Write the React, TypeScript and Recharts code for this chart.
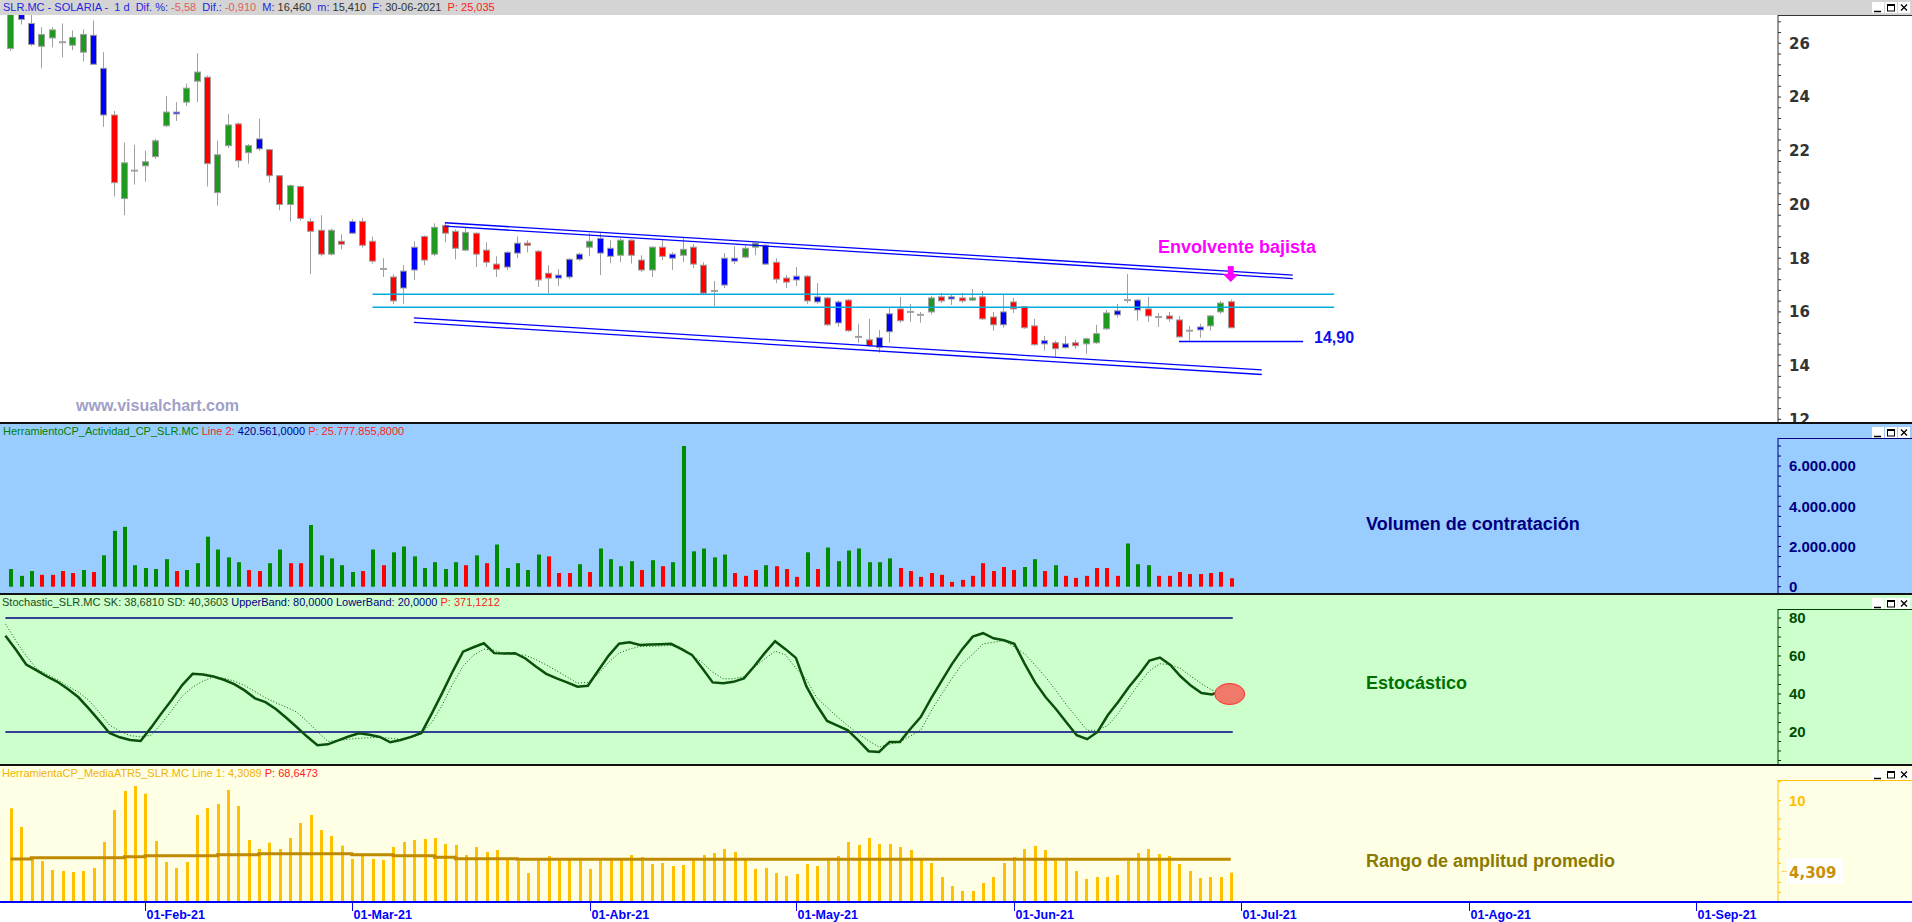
import React from "react";
import { ComposedChart, Bar, Line, XAxis, YAxis, ReferenceLine, ReferenceDot } from "recharts";

// one slot per trading day, 13-Jan-2021 .. 30-Jun-2021 hold data, the rest is empty future
const SLOTS = 171;

// candle type as drawn: g = alcista, r = bajista, b = azul, n = doji
const candleKind = (
  "gbbggnggbb" + "rgngggbggr" + "ggrgbrrgrr" + "rgrbrrnrbb" + "rgrrgrrrbb" + "rrrbbbgbbg" +
  "rrgrbgrrnb" + "bggbrrbrbr" + "brnrbbrnng" + "rbrgrrbrrr" + "brbrgggbnb" + "rnrrnbggr"
).split("");

const cOpen = [
  25.81, 27.07, 26.74, 25.89, 26.2, 26.04, 25.93, 25.67, 26.3, 25.07,
  23.33, 20.22, 21.26, 21.44, 21.78, 22.93, 23.44, 23.81, 24.59, 24.74,
  20.44, 22.19, 23.0, 21.93, 22.44, 22.04, 21.07, 20.0, 20.67, 19.37,
  19.04, 18.15, 18.63, 19.37, 19.37, 18.63, 17.6, 17.3, 17.52, 18.41,
  18.81, 18.15, 19.22, 19.0, 18.3, 18.93, 18.3, 17.78, 18.22, 18.56,
  18.56, 18.26, 17.44, 17.37, 17.96, 18.15, 18.41, 18.74, 18.37, 18.11,
  18.67, 17.93, 17.56, 18.41, 18.15, 18.11, 18.41, 17.74, 16.78, 18.0,
  18.0, 18.04, 18.41, 18.48, 17.85, 17.26, 17.33, 17.33, 16.56, 16.52,
  16.37, 16.44, 15.07, 14.96, 15.04, 15.93, 16.11, 16.0, 15.89, 16.0,
  16.56, 16.56, 16.52, 16.44, 16.56, 15.81, 16.0, 16.37, 16.19, 15.48,
  14.93, 14.85, 14.81, 14.85, 14.81, 14.85, 15.37, 16.04, 16.44, 16.44,
  16.11, 15.81, 15.85, 15.7, 15.3, 15.44, 15.48, 16.0, 16.38,
];
const cHigh = [
  27.4, 27.2, 27.1, 26.6, 26.6, 26.74, 26.48, 26.52, 26.85, 25.67,
  23.48, 22.3, 22.22, 22.0, 22.44, 24.04, 23.81, 24.5, 25.63, 24.8,
  22.37, 23.37, 23.05, 22.25, 23.19, 22.07, 21.1, 20.74, 20.7, 19.48,
  19.6, 19.1, 18.89, 19.45, 19.5, 18.8, 18.0, 17.4, 17.74, 18.63,
  18.85, 19.3, 19.33, 19.07, 19.15, 18.96, 18.59, 18.07, 18.26, 18.81,
  18.67, 18.3, 17.74, 17.59, 18.0, 18.2, 18.93, 18.93, 18.67, 18.74,
  18.7, 18.11, 18.44, 18.67, 18.22, 18.74, 18.52, 17.85, 17.15, 18.19,
  18.44, 18.48, 18.59, 18.52, 18.0, 17.37, 17.67, 17.37, 17.07, 16.56,
  16.44, 16.48, 15.56, 15.74, 15.33, 16.15, 16.56, 16.3, 16.0, 16.6,
  16.7, 16.63, 16.7, 16.85, 16.78, 16.0, 16.67, 16.52, 16.22, 15.74,
  15.11, 14.93, 15.11, 14.96, 15.04, 15.52, 16.07, 16.3, 17.41, 16.48,
  16.56, 15.96, 16.0, 15.85, 15.48, 15.56, 15.89, 16.41, 16.46,
];
const cLow = [
  25.72, 26.7, 25.9, 25.07, 25.85, 25.48, 25.74, 25.33, 25.2, 22.89,
  20.3, 19.6, 20.74, 20.85, 21.7, 22.89, 23.11, 23.67, 23.81, 20.67,
  19.96, 22.1, 21.37, 21.52, 22.0, 20.81, 19.78, 19.37, 19.4, 17.41,
  18.07, 18.1, 18.33, 18.9, 18.4, 17.8, 17.3, 16.3, 16.3, 17.19,
  17.74, 18.07, 18.59, 17.96, 18.26, 17.67, 17.67, 17.3, 17.56, 18.0,
  18.22, 16.93, 16.7, 16.96, 17.22, 17.9, 18.07, 17.37, 17.81, 17.85,
  17.8, 17.48, 17.3, 17.93, 17.56, 17.85, 17.63, 16.65, 16.22, 16.89,
  17.78, 18.0, 18.11, 17.74, 17.07, 16.89, 16.96, 16.3, 16.3, 15.48,
  15.44, 15.26, 14.85, 14.7, 14.48, 14.85, 15.6, 15.63, 15.6, 15.9,
  16.33, 16.26, 16.33, 16.4, 15.7, 15.3, 15.41, 15.96, 15.37, 14.74,
  14.56, 14.33, 14.63, 14.63, 14.44, 14.81, 15.33, 15.78, 16.33, 15.67,
  15.63, 15.44, 15.63, 15.04, 14.93, 15.04, 15.3, 15.93, 15.41,
];
const cClose = [
  27.2, 26.89, 25.96, 26.33, 26.5, 26.04, 26.22, 26.33, 25.22, 23.33,
  20.81, 21.55, 21.26, 21.59, 22.37, 23.44, 23.37, 24.33, 24.93, 21.52,
  21.85, 22.96, 21.63, 22.19, 22.07, 21.07, 20.0, 20.7, 19.48, 19.0,
  18.15, 19.04, 18.52, 18.93, 18.48, 17.89, 17.6, 16.41, 16.89, 17.56,
  17.93, 19.15, 18.93, 18.37, 18.96, 18.15, 17.85, 17.59, 17.67, 18.19,
  18.48, 17.19, 17.26, 17.26, 17.3, 17.96, 18.63, 18.19, 18.07, 18.67,
  18.11, 17.56, 18.41, 18.07, 18.0, 18.33, 17.78, 16.7, 16.78, 17.0,
  17.89, 18.37, 18.56, 17.78, 17.22, 17.11, 17.19, 16.41, 16.37, 15.52,
  15.59, 15.3, 15.07, 14.74, 14.67, 15.26, 15.67, 16.0, 15.89, 16.52,
  16.41, 16.48, 16.41, 16.52, 15.74, 15.52, 15.52, 16.11, 15.41, 14.78,
  14.81, 14.63, 14.67, 14.74, 15.0, 15.19, 15.96, 15.89, 16.44, 16.07,
  15.85, 15.81, 15.74, 15.07, 15.3, 15.33, 15.85, 16.33, 15.41,
];

const volume = [
  880000, 540000, 780000, 590000, 590000, 780000, 680000, 830000, 730000, 1560000,
  2780000, 2980000, 1070000, 930000, 880000, 1370000, 780000, 830000, 1170000, 2490000,
  1850000, 1460000, 1220000, 830000, 780000, 1170000, 1850000, 1170000, 1170000, 3070000,
  1560000, 1410000, 1070000, 730000, 780000, 1850000, 1070000, 1710000, 2000000, 1510000,
  930000, 1220000, 880000, 1220000, 1070000, 1560000, 1170000, 2100000, 930000, 1170000,
  830000, 1600000, 1510000, 680000, 680000, 1120000, 730000, 1900000, 1370000, 1020000,
  1270000, 830000, 1320000, 1020000, 1220000, 7000000, 1760000, 1900000, 1460000, 1600000,
  680000, 540000, 830000, 1070000, 1020000, 880000, 490000, 1710000, 880000, 1950000,
  1270000, 1800000, 1900000, 1220000, 1220000, 1410000, 930000, 780000, 490000, 680000,
  590000, 240000, 340000, 540000, 1170000, 780000, 980000, 830000, 980000, 1370000,
  780000, 1070000, 540000, 440000, 540000, 930000, 930000, 540000, 2150000, 1120000,
  1070000, 540000, 540000, 730000, 630000, 630000, 680000, 730000, 420561,
];
const volumeKind = (
  "gggrrrrgrg" + "ggggggrggg" + "gggrrggrrg" + "ggggrgrggg" + "ggggrgrggg" + "ggrrrgrggg" +
  "grgrgggggg" + "rrrgrrrgrg" + "ggggggrrrr" + "rrrrrrrrgg" + "rgrrrrrrgg" + "grrrrrrrr"
).split("");

const stochK = [
  70.7, 63.4, 55.5, 52.4, 49.2, 46.4, 42.6, 38.4, 32.4, 26.1,
  19.5, 17.2, 15.8, 15.3, 22.3, 29.8, 37.0, 44.7, 50.6, 50.3,
  49.2, 47.5, 45.2, 41.9, 37.7, 35.7, 32.1, 27.5, 22.6, 17.6,
  13.0, 13.5, 15.6, 17.6, 19.3, 18.6, 17.4, 14.6, 15.8, 17.4,
  19.5, 29.8, 40.6, 51.8, 62.3, 64.6, 66.7, 61.5, 61.3, 61.5,
  58.7, 54.5, 50.6, 48.2, 46.1, 43.8, 44.3, 52.4, 60.2, 66.5,
  67.2, 65.8, 66.0, 66.2, 66.4, 63.6, 60.6, 53.6, 46.1, 45.7,
  46.4, 48.2, 54.6, 61.5, 67.8, 63.6, 59.0, 44.1, 34.2, 25.8,
  23.3, 20.9, 15.6, 9.9, 9.5, 14.8, 14.8, 21.6, 27.9, 37.7,
  46.8, 55.7, 63.6, 70.2, 72.0, 69.3, 68.3, 66.4, 55.9, 46.1,
  38.4, 32.1, 25.1, 18.3, 16.2, 20.0, 28.9, 35.9, 43.6, 50.3,
  57.6, 59.2, 55.3, 49.2, 44.3, 40.5, 39.8, 41.9, 38.68,
];
const stochD = [
  76.9, 68.1, 60.1, 53.2, 50.3, 47.5, 44.1, 41.0, 36.8, 30.5,
  23.7, 20.5, 18.1, 17.4, 18.3, 24.4, 31.4, 38.9, 43.6, 46.8,
  49.0, 48.3, 46.8, 44.5, 41.3, 38.0, 35.4, 33.1, 30.5, 25.6,
  20.2, 15.1, 15.5, 16.2, 16.7, 17.0, 17.2, 16.7, 16.2, 17.0,
  19.1, 25.1, 34.2, 45.2, 54.6, 60.4, 63.6, 63.0, 61.1, 60.8,
  60.4, 58.1, 55.3, 52.2, 49.0, 45.7, 46.1, 50.6, 56.7, 61.6,
  63.6, 65.0, 65.1, 65.3, 65.5, 64.4, 60.4, 56.6, 51.5, 48.0,
  48.0, 49.2, 54.1, 58.4, 62.5, 60.6, 53.6, 47.8, 38.0, 32.9,
  27.9, 23.3, 19.1, 15.3, 12.1, 13.5, 14.8, 17.9, 20.9, 31.0,
  39.8, 48.2, 55.9, 60.9, 66.4, 67.2, 68.1, 64.8, 61.1, 55.2,
  48.9, 41.9, 34.3, 27.7, 20.9, 20.9, 23.5, 29.8, 37.8, 45.5,
  52.2, 55.9, 55.5, 53.4, 49.2, 45.4, 42.0, 41.5, 40.36,
];

const atr5 = [
  9.4, 7.92, 5.39, 5.23, 4.52, 4.44, 4.36, 4.44, 4.68, 6.73,
  9.26, 10.77, 11.16, 10.55, 6.81, 5.15, 4.68, 5.15, 8.87, 9.42,
  9.74, 10.85, 9.58, 6.89, 6.18, 6.68, 6.18, 7.05, 8.24, 8.87,
  7.68, 7.21, 6.44, 5.39, 5.7, 5.39, 5.31, 6.34, 6.73, 6.89,
  6.97, 7.05, 6.57, 6.5, 5.7, 6.34, 5.94, 6.1, 5.31, 5.23,
  4.28, 5.31, 5.62, 5.47, 5.39, 5.47, 4.6, 5.31, 5.47, 5.39,
  5.7, 5.55, 4.99, 5.07, 4.83, 4.91, 5.31, 5.7, 5.86, 6.18,
  5.94, 5.39, 4.6, 4.68, 4.28, 4.04, 4.2, 4.99, 4.83, 5.31,
  5.62, 6.73, 6.5, 7.05, 6.57, 6.57, 6.34, 6.1, 5.39, 5.07,
  3.96, 3.25, 2.86, 2.86, 3.49, 3.96, 5.07, 5.55, 6.18, 6.42,
  6.1, 5.23, 5.23, 4.44, 3.81, 3.96, 3.96, 4.12, 5.23, 5.86,
  6.18, 5.78, 5.62, 4.99, 4.44, 3.88, 3.96, 3.96, 4.31,
];
const atrAvg = [
  5.39, 5.39, 5.49, 5.49, 5.49, 5.49, 5.49, 5.49, 5.49, 5.49,
  5.49, 5.57, 5.57, 5.65, 5.65, 5.65, 5.65, 5.65, 5.65, 5.65,
  5.73, 5.73, 5.73, 5.73, 5.81, 5.81, 5.81, 5.81, 5.81, 5.81,
  5.81, 5.81, 5.81, 5.73, 5.73, 5.73, 5.73, 5.65, 5.65, 5.65,
  5.65, 5.52, 5.52, 5.41, 5.41, 5.41, 5.41, 5.41, 5.41, 5.36,
  5.36, 5.36, 5.36, 5.36, 5.36, 5.36, 5.36, 5.36, 5.36, 5.36,
  5.36, 5.36, 5.36, 5.36, 5.36, 5.36, 5.36, 5.36, 5.36, 5.36,
  5.36, 5.36, 5.36, 5.36, 5.36, 5.36, 5.36, 5.36, 5.36, 5.36,
  5.36, 5.36, 5.36, 5.36, 5.36, 5.36, 5.36, 5.36, 5.36, 5.36,
  5.36, 5.36, 5.36, 5.36, 5.36, 5.36, 5.36, 5.36, 5.36, 5.36,
  5.36, 5.36, 5.36, 5.36, 5.36, 5.36, 5.36, 5.36, 5.36, 5.36,
  5.36, 5.36, 5.36, 5.36, 5.36, 5.36, 5.36, 5.36, 5.36,
];

// x axis: slot of the first session of each month, and its label
const dateSlots = [13, 33, 56, 76, 97, 119, 141, 163];
const dateLabels = ["01-Feb-21", "01-Mar-21", "01-Abr-21", "01-May-21", "01-Jun-21", "01-Jul-21", "01-Ago-21", "01-Sep-21"];

const priceLabels = [12, 14, 16, 18, 20, 22, 24, 26];
const volLabels = [0, 2000000, 4000000, 6000000];
const volLabelText = ["0", "2.000.000", "4.000.000", "6.000.000"];
const stochLabels = [20, 40, 60, 80];
const atrLabels = [10];

// trend lines drawn on the price panel: [slotFrom, priceFrom, slotTo, priceTo]
const channelTop = [42, 19.32, 124, 17.37];
const channelBottom = [39, 15.78, 121, 13.84];
const resistA = 16.66;
const resistB = 16.17;
const support = 14.9;

const rows = Array.from({ length: SLOTS }, (_, i) => ({
  i,
  o: cOpen[i], h: cHigh[i], l: cLow[i], c: cClose[i], kind: candleKind[i],
  v: volume[i], vk: volumeKind[i],
  k: stochK[i], d: stochD[i],
  atr: atr5[i], ma: atrAvg[i],
}));

const W = 1912;
const AXIS_W = 134;
const XPAD = { left: 5.4, right: 4.4 };
const SANS = "Liberation Sans, Arial, sans-serif";
const VERD = "DejaVu Sans, Verdana, sans-serif";

const candleFill: Record<string, string> = { g: "#1f991f", r: "#ff0000", b: "#0000ff" };

function Candle(props: any) {
  const { x, y, width, height, payload } = props;
  if (!payload || payload.h == null) return null;
  const top = Math.min(y, y + height);
  const span = Math.abs(height);
  const range = payload.h - payload.l || 1;
  const py = (p: number) => top + ((payload.h - p) / range) * span;
  const cx = Math.round(x + width / 2);
  const yo = py(payload.o);
  const yc = py(payload.c);
  const bt = Math.min(yo, yc);
  const bb = Math.max(yo, yc);
  const wick = <line x1={cx + 0.5} x2={cx + 0.5} y1={top} y2={top + span} stroke="#a0a0a0" strokeWidth={1} />;
  if (payload.kind === "n") {
    return (
      <g>
        {wick}
        <line x1={cx - 3} x2={cx + 4} y1={bt} y2={bt} stroke="#a0a0a0" strokeWidth={2} />
      </g>
    );
  }
  return (
    <g>
      {wick}
      <rect x={cx - 2.5} y={bt} width={6} height={Math.max(bb - bt, 1.5)} fill={candleFill[payload.kind]} stroke="#a0a0a0" strokeWidth={1} />
    </g>
  );
}

function VolBar(props: any) {
  const { x, y, width, height, payload } = props;
  if (!payload || payload.v == null) return null;
  const cx = Math.round(x + width / 2);
  return <rect x={cx - 1} y={y} width={4} height={height} fill={payload.vk === "g" ? "#008c00" : "#ff0000"} />;
}

function AtrBar(props: any) {
  const { x, y, width, height, payload } = props;
  if (!payload || payload.atr == null) return null;
  const cx = Math.round(x + width / 2);
  return <rect x={cx - 1} y={y} width={3} height={height} fill="#ffc000" />;
}

const axisTick = (labels: number[], text: (v: number) => string, color: string, font: string, size: number) =>
  (props: any) => {
    const { x, y, payload } = props;
    const idx = labels.findIndex((l) => Math.abs(l - payload.value) < 1e-6);
    if (idx < 0) return <g />;
    return (
      <text x={x} y={y} dy="0.36em" fill={color} fontFamily={font} fontWeight="bold" fontSize={size}>
        {text(labels[idx])}
      </text>
    );
  };

function DateTick(props: any) {
  const { x, y, payload } = props;
  const idx = dateSlots.indexOf(payload.value);
  const px = Math.round(x) + 0.5;
  return (
    <g>
      <line x1={px} x2={px} y1={y} y2={y + 9} stroke="#0000ff" strokeWidth={1} />
      <text x={px + 1} y={y + 12} dy="0.36em" fill="#0000ff" fontFamily={SANS} fontWeight="bold" fontSize={12.5}>
        {dateLabels[idx]}
      </text>
    </g>
  );
}

function WinButtons({ top }: { top: number }) {
  const box = { background: "#fff", width: 12, height: 11, display: "block" } as React.CSSProperties;
  return (
    <div style={{ position: "absolute", left: 1872, top, display: "flex", gap: 1 }}>
      <svg style={box}><line x1={2} x2={9} y1={9.5} y2={9.5} stroke="#000" strokeWidth={1.5} /></svg>
      <svg style={box}><rect x={2.5} y={2.5} width={7} height={6.5} fill="none" stroke="#000" strokeWidth={1} /><line x1={2} x2={10} y1={3} y2={3} stroke="#000" strokeWidth={2} /></svg>
      <svg style={box}><path d="M3 2.5 L9 8.5 M9 2.5 L3 8.5" stroke="#000" strokeWidth={1.3} /></svg>
    </div>
  );
}

// strip between panel border and the axis box (holds the window buttons)
function AxisStrip({ top, bg, line }: { top: number; bg: string; line: string }) {
  return (
    <>
      <div style={{ position: "absolute", left: 1777, top, width: W - 1777, height: 14, background: bg }} />
      <div style={{ position: "absolute", left: 1778, top: top + 14, width: W - 1778, height: 1, background: line }} />
      <WinButtons top={top + 3} />
    </>
  );
}

const abs = (left: number, top: number, extra: React.CSSProperties = {}): React.CSSProperties => ({
  position: "absolute", left, top, whiteSpace: "pre", ...extra,
});

const priceTicksAll = priceLabels.flatMap((m) => (m < 26 ? [m, m + 0.4, m + 0.8, m + 1.2, m + 1.6] : [m, m + 0.4, m + 0.8]));
const volTicksAll = [0, 500000, 1000000, 1500000, 2000000, 2500000, 3000000, 3500000, 4000000, 4500000, 5000000, 5500000, 6000000, 6500000, 7000000, 7500000];
const stochTicksAll = [5, 10, 15, 20, 25, 30, 35, 40, 45, 50, 55, 60, 65, 70, 75, 80, 85, 90];
const atrTicksAll = [2.75, 3.54, 5.05, 6.18, 6.97, 7.76, 8.55, 10, 11.5];

export default function App() {
  const m = { top: 0, right: 0, bottom: 0, left: 0 };
  return (
    <div style={{ position: "relative", width: W, height: 922, background: "#fff", overflow: "hidden" }}>
      <style>{"body{margin:0}"}</style>

      {/* price panel */}
      <div style={{ position: "absolute", left: 0, top: 15, width: W, height: 408, background: "#fff" }}>
        <ComposedChart width={W} height={408} data={rows} margin={m}>
          <XAxis dataKey="i" type="category" hide padding={XPAD} />
          <YAxis orientation="right" width={AXIS_W} domain={[11.864, 27.054]} allowDataOverflow ticks={priceTicksAll} interval={0}
            axisLine={{ stroke: "#333" }} tickLine={{ stroke: "#333" }} tickSize={3} tickMargin={8}
            tick={axisTick(priceLabels, (v) => String(v), "#333", VERD, 15)} />
          <Bar dataKey={(r: any) => (r.h == null ? null : [r.l, r.h])} barSize={8} shape={Candle} isAnimationActive={false} />
          <ReferenceLine ifOverflow="visible" segment={[{ x: 35, y: resistA }, { x: 128, y: resistA }]} stroke="#00aadd" strokeWidth={1.5} />
          <ReferenceLine ifOverflow="visible" segment={[{ x: 35, y: resistB }, { x: 128, y: resistB }]} stroke="#00aadd" strokeWidth={1.5} />
          <ReferenceLine ifOverflow="visible" segment={[{ x: channelTop[0], y: channelTop[1] }, { x: channelTop[2], y: channelTop[3] }]} stroke="#0000ff" strokeWidth={1.3} />
          <ReferenceLine ifOverflow="visible" segment={[{ x: channelTop[0], y: channelTop[1] - 0.13 }, { x: channelTop[2], y: channelTop[3] - 0.13 }]} stroke="#0000ff" strokeWidth={1.3} />
          <ReferenceLine ifOverflow="visible" segment={[{ x: channelBottom[0], y: channelBottom[1] }, { x: channelBottom[2], y: channelBottom[3] }]} stroke="#0000ff" strokeWidth={1.3} />
          <ReferenceLine ifOverflow="visible" segment={[{ x: channelBottom[0], y: channelBottom[1] - 0.17 }, { x: channelBottom[2], y: channelBottom[3] - 0.17 }]} stroke="#0000ff" strokeWidth={1.3} />
          <ReferenceLine ifOverflow="visible" segment={[{ x: 113, y: support }, { x: 125, y: support }]} stroke="#0000ff" strokeWidth={1.5} />
          <ReferenceDot ifOverflow="visible" x={118} y={17.11} r={1}
            shape={(p: any) => (
              <g fill="#ff00ff">
                <rect x={p.cx - 3} y={p.cy - 16} width={6} height={8} />
                <path d={`M${p.cx - 8} ${p.cy - 8} L${p.cx + 8} ${p.cy - 8} L${p.cx} ${p.cy} Z`} />
              </g>
            )} />
        </ComposedChart>
      </div>
      <div style={{ position: "absolute", left: 0, top: 0, width: W, height: 15, background: "#d4d4d4" }} />
      <div style={{ position: "absolute", left: 1778, top: 15, width: W - 1778, height: 1, background: "#333" }} />
      <WinButtons top={2} />
      <div style={abs(3, 1, { fontFamily: SANS, fontSize: 11, lineHeight: "13px" })}>
        <span style={{ color: "#2424e0" }}>SLR.MC - SOLARIA -  1 d  Dif. %: </span>
        <span style={{ color: "#e06060" }}>-5,58</span>
        <span style={{ color: "#2424e0" }}>  Dif.: </span>
        <span style={{ color: "#e06060" }}>-0,910</span>
        <span style={{ color: "#2424e0" }}>  M: </span>
        <span style={{ color: "#333" }}>16,460</span>
        <span style={{ color: "#2424e0" }}>  m: </span>
        <span style={{ color: "#333" }}>15,410</span>
        <span style={{ color: "#2424e0" }}>  F: </span>
        <span style={{ color: "#333" }}>30-06-2021</span>
        <span style={{ color: "#ff2020" }}>  P: 25,035</span>
      </div>
      <div style={abs(1158, 238, { fontFamily: SANS, fontWeight: "bold", fontSize: 18, lineHeight: "18px", color: "#ff00ff" })}>Envolvente bajista</div>
      <div style={abs(1314, 330, { fontFamily: SANS, fontWeight: "bold", fontSize: 16, lineHeight: "16px", color: "#1010ee" })}>14,90</div>
      <div style={abs(76, 398, { fontFamily: SANS, fontWeight: "bold", fontSize: 16, lineHeight: "16px", color: "#a0a0c8" })}>www.visualchart.com</div>

      {/* volume panel */}
      <div style={{ position: "absolute", left: 0, top: 424, width: W, height: 170, background: "#99ccff" }}>
        <ComposedChart width={W} height={170} data={rows} margin={m}>
          <XAxis dataKey="i" type="category" hide padding={XPAD} />
          <YAxis orientation="right" width={AXIS_W} domain={[-363000, 8094000]} allowDataOverflow ticks={volTicksAll} interval={0}
            axisLine={{ stroke: "#000080" }} tickLine={{ stroke: "#000080" }} tickSize={3} tickMargin={8}
            tick={axisTick(volLabels, (v) => volLabelText[volLabels.indexOf(v)], "#000080", SANS, 15)} />
          <Bar dataKey="v" barSize={4} shape={VolBar} isAnimationActive={false} />
        </ComposedChart>
      </div>
      <AxisStrip top={424} bg="#99ccff" line="#000080" />
      <div style={abs(3, 425, { fontFamily: SANS, fontSize: 11, lineHeight: "13px" })}>
        <span style={{ color: "#008000" }}>HerramientoCP_Actividad_CP_SLR.MC </span>
        <span style={{ color: "#ff2020" }}>Line 2: </span>
        <span style={{ color: "#000080" }}>420.561,0000 </span>
        <span style={{ color: "#ff2020" }}>P: 25.777.855,8000</span>
      </div>
      <div style={abs(1366, 515, { fontFamily: SANS, fontWeight: "bold", fontSize: 18, lineHeight: "18px", color: "#000080" })}>Volumen de contratación</div>

      {/* stochastic panel */}
      <div style={{ position: "absolute", left: 0, top: 595, width: W, height: 170, background: "#ccffcc" }}>
        <ComposedChart width={W} height={170} data={rows} margin={m}>
          <XAxis dataKey="i" type="category" hide padding={XPAD} />
          <YAxis orientation="right" width={AXIS_W} domain={[2.63, 92.1]} allowDataOverflow ticks={stochTicksAll} interval={0}
            axisLine={{ stroke: "#004000" }} tickLine={{ stroke: "#004000" }} tickSize={3} tickMargin={8}
            tick={axisTick(stochLabels, (v) => String(v), "#004d00", SANS, 15)} />
          <ReferenceLine ifOverflow="visible" segment={[{ x: 0, y: 80 }, { x: 118, y: 80 }]} stroke="#000080" strokeWidth={1.5} />
          <ReferenceLine ifOverflow="visible" segment={[{ x: 0, y: 20 }, { x: 118, y: 20 }]} stroke="#000080" strokeWidth={1.5} />
          <Line dataKey="d" stroke="#0a5a0a" strokeWidth={1} strokeDasharray="1 2" dot={false} activeDot={false} isAnimationActive={false} />
          <Line dataKey="k" stroke="#0a500a" strokeWidth={2.5} dot={false} activeDot={false} isAnimationActive={false} />
          <ReferenceDot ifOverflow="visible" x={118} y={40} r={1}
            shape={(p: any) => <ellipse cx={p.cx - 3} cy={p.cy} rx={15} ry={10.5} fill="#f07a6a" stroke="#ff3030" strokeWidth={1} />} />
        </ComposedChart>
      </div>
      <AxisStrip top={595} bg="#ccffcc" line="#004000" />
      <div style={abs(2, 596, { fontFamily: SANS, fontSize: 11, lineHeight: "13px" })}>
        <span style={{ color: "#1a4d1a" }}>Stochastic_SLR.MC SK: 38,6810 SD: 40,3603 </span>
        <span style={{ color: "#000080" }}>UpperBand: 80,0000 LowerBand: 20,0000 </span>
        <span style={{ color: "#ff2020" }}>P: 371,1212</span>
      </div>
      <div style={abs(1366, 674, { fontFamily: SANS, fontWeight: "bold", fontSize: 18, lineHeight: "18px", color: "#007000" })}>Estocástico</div>

      {/* ATR panel */}
      <div style={{ position: "absolute", left: 0, top: 766, width: W, height: 156, background: "#fff" }}>
        <div style={{ position: "absolute", left: 0, top: 0, width: W, height: 136, background: "#ffffe6" }} />
        <div style={{ position: "absolute", left: 0, top: 0 }}>
          <ComposedChart width={W} height={156} data={rows} margin={m}>
            <XAxis dataKey="i" type="category" padding={XPAD} height={20} ticks={dateSlots} interval={0}
              axisLine={false} tickLine={false} tickSize={0} tickMargin={0} tick={DateTick} />
            <YAxis orientation="right" width={AXIS_W} domain={[1.986, 12.745]} allowDataOverflow ticks={atrTicksAll} interval={0}
              axisLine={{ stroke: "#ffc000" }} tickLine={{ stroke: "#ffc000" }} tickSize={3} tickMargin={8}
              tick={axisTick(atrLabels, (v) => String(v), "#ffc000", SANS, 15)} />
            <Bar dataKey="atr" barSize={3} shape={AtrBar} isAnimationActive={false} />
            <Line dataKey="ma" type="stepAfter" stroke="#c08a00" strokeWidth={3} dot={false} activeDot={false} isAnimationActive={false} />
          </ComposedChart>
        </div>
      </div>
      <AxisStrip top={766} bg="#ffffe6" line="#ffc000" />
      <div style={abs(2, 767, { fontFamily: SANS, fontSize: 11, lineHeight: "13px" })}>
        <span style={{ color: "#f0b400" }}>HerramientaCP_MediaATR5_SLR.MC Line 1: 4,3089 </span>
        <span style={{ color: "#ff2020" }}>P: 68,6473</span>
      </div>
      <div style={abs(1366, 852, { fontFamily: SANS, fontWeight: "bold", fontSize: 18, lineHeight: "18px", color: "#8a7a00" })}>Rango de amplitud promedio</div>
      <div style={abs(1787, 858, { width: 56, height: 26, background: "#fff" })} />
      <div style={abs(1780, 866, { fontFamily: SANS, fontSize: 9, lineHeight: "9px", color: "#ffc000" })}>←</div>
      <div style={abs(1789, 865, { fontFamily: VERD, fontWeight: "bold", fontSize: 15, lineHeight: "16px", color: "#c8900a" })}>4,309</div>

      {/* panel borders and time axis line */}
      <div style={{ position: "absolute", left: 0, top: 422, width: W, height: 2, background: "#111" }} />
      <div style={{ position: "absolute", left: 0, top: 593, width: W, height: 2, background: "#111" }} />
      <div style={{ position: "absolute", left: 0, top: 764, width: W, height: 2, background: "#111" }} />
      <div style={{ position: "absolute", left: 0, top: 901, width: W, height: 2, background: "#0000ff" }} />
    </div>
  );
}
